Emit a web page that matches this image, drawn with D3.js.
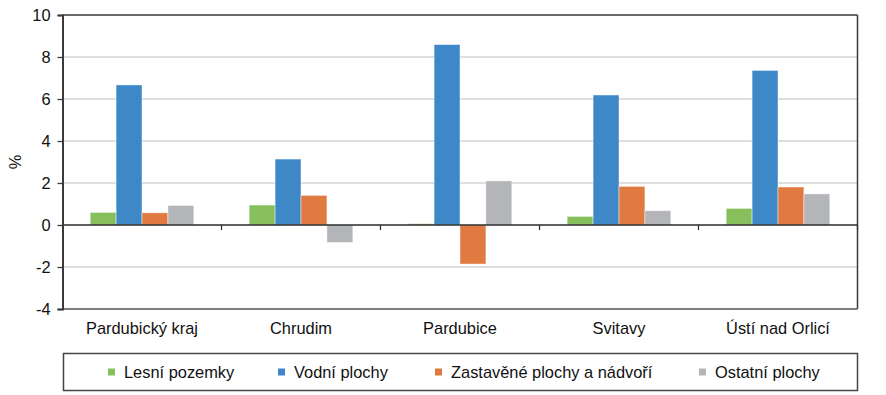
<!DOCTYPE html>
<html>
<head>
<meta charset="utf-8">
<script src="https://cdn.jsdelivr.net/npm/d3@7"></script>
<style>
    body { margin: 0; background: #fff; }
    svg { display: block; font-family: 'Liberation Sans', Arial, sans-serif; }
</style>
</head>
<body>
<div class="chart-container"></div>
<script>
const regions = ['Pardubický kraj', 'Chrudim', 'Pardubice', 'Svitavy', 'Ústí nad Orlicí']
const seriesNames = ['Lesní pozemky', 'Vodní plochy', 'Zastavěné plochy a nádvoří', 'Ostatní plochy']
const lesni = [0.6, 0.95, 0.06, 0.41, 0.79]
const vodni = [6.67, 3.14, 8.59, 6.19, 7.36]
const zastavene = [0.58, 1.41, -1.86, 1.84, 1.81]
const ostatni = [0.93, -0.83, 2.1, 0.68, 1.48]
const yTicks = [-4, -2, 0, 2, 4, 6, 8, 10]

const colors = ['#86bf5b', '#3e88c8', '#e07a41', '#b3b5b9']
const seriesValues = [lesni, vodni, zastavene, ostatni]

const width = 886
const height = 395
const plot = { left: 62.5, right: 857.5, top: 15, bottom: 309 }
const FONT_SIZE = 16.4

const svg = d3
    .select('.chart-container')
    .append('svg')
    .attr('width', width)
    .attr('height', height)

const x0 = d3
    .scaleBand()
    .domain(regions)
    .range([plot.left, plot.right])

const x1 = d3
    .scaleBand()
    .domain(seriesNames)
    .range([x0.bandwidth() * 0.174, x0.bandwidth() * 0.826])

const y = d3
    .scaleLinear()
    .domain([-4, 10])
    .range([plot.bottom, plot.top])

// gridlines
svg.append('g')
    .selectAll('line')
    .data(yTicks.filter(t => t !== 0 && t !== 10 && t !== -4))
    .enter()
    .append('line')
    .attr('x1', plot.left)
    .attr('x2', plot.right)
    .attr('y1', d => y(d))
    .attr('y2', d => y(d))
    .attr('stroke', '#d3d3d3')
    .attr('stroke-width', 1.5)

// frame: top, right, bottom
svg.append('line')
    .attr('x1', plot.left).attr('x2', plot.right)
    .attr('y1', y(10)).attr('y2', y(10))
    .attr('stroke', '#6b6b6b').attr('stroke-width', 2)
svg.append('line')
    .attr('x1', plot.right).attr('x2', plot.right)
    .attr('y1', y(10)).attr('y2', y(-4))
    .attr('stroke', '#3a3a3a').attr('stroke-width', 1.5)
svg.append('line')
    .attr('x1', plot.left).attr('x2', plot.right)
    .attr('y1', y(-4)).attr('y2', y(-4))
    .attr('stroke', '#555').attr('stroke-width', 1.5)

// bars
const rows = regions.map((r, i) => ({
    region: r,
    values: seriesNames.map((s, j) => ({ key: s, idx: j, value: seriesValues[j][i] }))
}))

const group = svg
    .append('g')
    .selectAll('g')
    .data(rows)
    .enter()
    .append('g')
    .attr('transform', d => 'translate(' + x0(d.region) + ',0)')

group
    .selectAll('rect')
    .data(d => d.values)
    .enter()
    .append('rect')
    .attr('x', d => x1(d.key))
    .attr('y', d => y(Math.max(0, d.value)))
    .attr('width', x1.bandwidth())
    .attr('height', d => Math.abs(y(d.value) - y(0)))
    .attr('fill', d => colors[d.idx])
    .attr('stroke', 'rgba(255,255,255,0.55)')
    .attr('stroke-width', 0.8)

// zero line with category ticks
svg.append('line')
    .attr('x1', plot.left).attr('x2', plot.right)
    .attr('y1', y(0)).attr('y2', y(0))
    .attr('stroke', '#2b2b2b').attr('stroke-width', 1.3)

svg.append('g')
    .selectAll('line')
    .data(regions.slice(1).map(r => x0(r)).concat([plot.right]))
    .enter()
    .append('line')
    .attr('x1', d => d).attr('x2', d => d)
    .attr('y1', y(0)).attr('y2', y(0) + 5)
    .attr('stroke', '#2b2b2b').attr('stroke-width', 1.2)

// y axis
const yAxis = svg
    .append('g')
    .attr('transform', 'translate(' + plot.left + ',0)')
    .call(d3.axisLeft(y).tickValues(yTicks).tickFormat(d => String(d)).tickSize(5).tickPadding(7))

yAxis.select('.domain').attr('stroke', '#3a3a3a').attr('stroke-width', 2)
yAxis.selectAll('.tick line').attr('stroke', '#3a3a3a').attr('stroke-width', 1.3)
yAxis.selectAll('.tick text')
    .attr('font-size', FONT_SIZE)
    .attr('font-family', 'Liberation Sans, Arial, sans-serif')
    .attr('fill', '#111')

svg.append('text')
    .attr('transform', 'translate(21,' + (plot.top + plot.bottom) / 2 + ') rotate(-90)')
    .attr('text-anchor', 'middle')
    .attr('font-size', FONT_SIZE)
    .attr('fill', '#111')
    .text('%')

// x labels
svg.append('g')
    .selectAll('text')
    .data(regions)
    .enter()
    .append('text')
    .attr('x', d => x0(d) + x0.bandwidth() / 2)
    .attr('y', 334)
    .attr('text-anchor', 'middle')
    .attr('font-size', FONT_SIZE)
    .attr('fill', '#111')
    .text(d => d)

// legend
const legendBox = { x: 63.5, y: 353.5, w: 794, h: 37 }
const legendPos = [108, 278, 435, 699]

svg.append('rect')
    .attr('x', legendBox.x)
    .attr('y', legendBox.y)
    .attr('width', legendBox.w)
    .attr('height', legendBox.h)
    .attr('fill', 'none')
    .attr('stroke', '#444')
    .attr('stroke-width', 1.5)

const legendItem = svg
    .append('g')
    .selectAll('g')
    .data(seriesNames)
    .enter()
    .append('g')
    .attr('transform', (d, i) => 'translate(' + legendPos[i] + ',' + (legendBox.y + legendBox.h / 2) + ')')

legendItem
    .append('rect')
    .attr('x', 0)
    .attr('y', -3.5)
    .attr('width', 7)
    .attr('height', 7)
    .attr('fill', (d, i) => colors[i])

legendItem
    .append('text')
    .attr('x', 16)
    .attr('y', 5.5)
    .attr('font-size', FONT_SIZE)
    .attr('fill', '#111')
    .text(d => d)
</script>
</body>
</html>
